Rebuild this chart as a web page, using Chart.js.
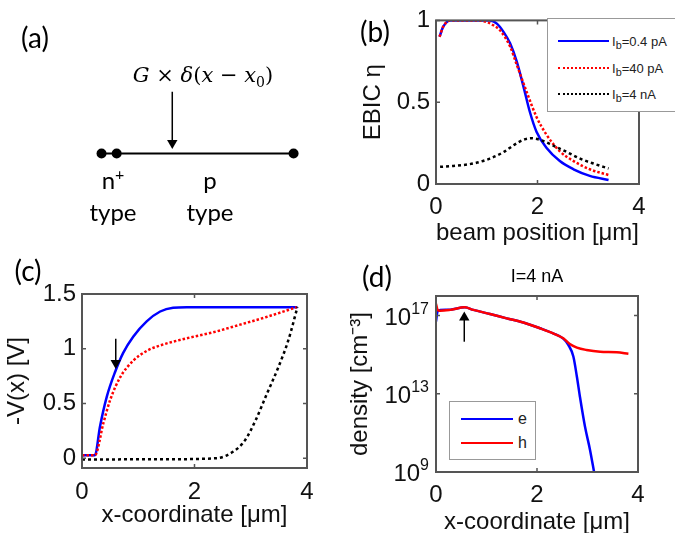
<!DOCTYPE html>
<html>
<head>
<meta charset="utf-8">
<script src="https://cdn.jsdelivr.net/npm/chart.js@4.4.1/dist/chart.umd.min.js"></script>
<style>
  body { margin: 0; width: 675px; height: 533px; overflow: hidden; background: #fff; position: relative; font-family: 'Liberation Sans', Arial, sans-serif; }
  canvas { position: absolute; }
  .txt { position: absolute; white-space: nowrap; color: #000; transform: translate(-50%, -50%); line-height: 1; }
  .panel { font-family: Lato, 'Open Sans', sans-serif; font-size: 28px; }
  .diag { font-family: Lato, 'Open Sans', sans-serif; font-size: 24px; }
  .formula { font-family: 'DejaVu Serif', 'Liberation Serif', serif; font-size: 21px; }
  .legend { position: absolute; border: 1px solid #999; background: #fff; }
  .legend .sample { position: absolute; height: 0; }
  .legend .lab { position: absolute; white-space: nowrap; transform: translateY(-50%); color: #222; }
  .ytick { position: absolute; white-space: nowrap; color: #111; font-size: 24px; line-height: 1; transform: translate(-100%, -50%); }
  sup, sub { line-height: 0; }
</style>
</head>
<body>

<canvas id="chart-a" width="340" height="250" style="left:0;top:0"></canvas>
<canvas id="chart-b" width="335" height="250" style="left:340px;top:0"></canvas>
<canvas id="chart-c" width="340" height="283" style="left:0;top:250px"></canvas>
<canvas id="chart-d" width="335" height="290" style="left:340px;top:250px"></canvas>

<div class="txt panel" style="left:35px;top:37px">(a)</div>
<div class="txt panel" style="left:375px;top:31px">(b)</div>
<div class="txt panel" style="left:28px;top:270px">(c)</div>
<div class="txt panel" style="left:377px;top:276px">(d)</div>

<div class="txt formula" style="left:203px;top:75px"><i>G</i> × <i>δ</i>(<i>x</i> − <i>x</i><sub style="font-size:14px">0</sub>)</div>
<div class="txt diag" style="left:113px;top:180px">n<sup style="font-size:16px">+</sup></div>
<div class="txt diag" style="left:113px;top:212px">type</div>
<div class="txt diag" style="left:210px;top:180px">p</div>
<div class="txt diag" style="left:210px;top:212px">type</div>

<div class="txt" style="left:537px;top:276px;font-size:18px">I=4 nA</div>

<div class="legend" id="legend-b" style="left:547px;top:18px;width:140px;height:92px"></div>
<div class="legend" id="legend-d" style="left:449px;top:401px;width:85px;height:57px"></div>

<script>
'use strict';

// ---- (b) EBIC vs beam position ----
const beamLowX  = [0.07, 0.14, 0.28, 0.5, 0.8, 1.06, 1.2, 1.33, 1.46, 1.59, 1.72, 1.85, 1.98, 2.18, 2.44, 2.71, 3.03, 3.4];
const beamLowY  = [0.90, 0.96, 1.0, 1.0, 1.0, 1.0, 0.98, 0.93, 0.86, 0.75, 0.60, 0.44, 0.32, 0.22, 0.14, 0.09, 0.05, 0.025];
const beamMidX  = [0.07, 0.14, 0.28, 0.5, 0.8, 1.0, 1.13, 1.26, 1.46, 1.59, 1.79, 1.98, 2.18, 2.44, 2.71, 3.03, 3.4];
const beamMidY  = [0.90, 0.96, 1.0, 1.0, 1.0, 0.99, 0.97, 0.94, 0.84, 0.73, 0.56, 0.41, 0.30, 0.20, 0.14, 0.09, 0.055];
const beamHighX = [0.08, 0.34, 0.73, 1.06, 1.33, 1.52, 1.72, 1.88, 2.05, 2.31, 2.58, 2.84, 3.10, 3.40];
const beamHighY = [0.105, 0.11, 0.125, 0.155, 0.195, 0.235, 0.27, 0.28, 0.27, 0.235, 0.195, 0.155, 0.125, 0.095];
const legendB = ['I<sub>b</sub>=0.4 pA', 'I<sub>b</sub>=40 pA', 'I<sub>b</sub>=4 nA'];
const xTicksB = [0, 2, 4];
const yTicksB = [0, 0.5, 1];

// ---- (c) potential ----
const potLowX  = [0, 0.23, 0.32, 0.44, 0.59, 0.73, 0.91, 1.15, 1.39, 1.62, 1.86, 3.0, 3.83];
const potLowY  = [0.027, 0.027, 0.29, 0.56, 0.79, 0.96, 1.11, 1.25, 1.34, 1.375, 1.38, 1.38, 1.38];
const potMidX  = [0, 0.23, 0.38, 0.50, 0.68, 0.91, 1.15, 1.39, 1.86, 2.33, 2.81, 3.28, 3.82];
const potMidY  = [0.027, 0.027, 0.32, 0.53, 0.74, 0.89, 0.98, 1.03, 1.095, 1.15, 1.22, 1.29, 1.38];
const potHighX = [0, 1.5, 2.4, 2.69, 2.9, 3.09, 3.28, 3.49, 3.67, 3.83];
const potHighY = [-0.012, -0.01, 0.0, 0.06, 0.165, 0.35, 0.58, 0.83, 1.08, 1.38];
const arrowC = { x: 0.6, top: 1.09, head: 0.87 };
const xTicksC = [0, 2, 4];
const yTicksC = [0, 0.5, 1, 1.5];

// ---- (d) carrier density, I = 4 nA ----
const densEX = [0, 0.03, 0.08, 0.28, 0.57, 0.74, 1.07, 1.40, 1.73, 2.06, 2.32, 2.52, 2.62, 2.72, 2.79, 2.85, 2.95, 3.05, 3.13, 3.2];
const densE  = [5.0e16, 1.6e17, 1.9e17, 2.0e17, 2.63e17, 1.95e17, 1.2e17, 7.2e16, 4.4e16, 2.24e16, 1.23e16, 6.6e15, 3.2e15, 8e14, 7.4e13, 7.1e12, 2.1e11, 1.35e10, 1.0e9, 1.0e8];
const densHX = [0, 0.03, 0.08, 0.28, 0.57, 0.74, 1.07, 1.40, 1.73, 2.06, 2.32, 2.52, 2.65, 2.79, 2.98, 3.25, 3.58, 3.81];
const densH  = [4.0e17, 2.0e17, 1.74e17, 1.95e17, 2.63e17, 1.95e17, 1.2e17, 7.2e16, 4.4e16, 2.24e16, 1.23e16, 6.9e15, 3.5e15, 2.3e15, 1.74e15, 1.41e15, 1.32e15, 1.1e15];
const legendD = ['e', 'h'];
const arrowD = { x: 0.56, base: 4.6e15, head: 8.0e16 };
const xTicksD = [0, 2, 4];
const yTicksD = [1e9, 1e13, 1e17];
const yExpD = ['9', '13', '17'];

// ---- (a) device sketch ----
const contactsX = [0, 0.3, 3.8];
const beamX = 1.4;
const beamArrow = { top: 1.3, head: 0.22 };

Chart.defaults.font.family = "'Liberation Sans', Arial, sans-serif";
Chart.defaults.color = '#111';

const pts = (xs, ys) => xs.map((x, i) => ({ x: x, y: ys[i] }));

// box + inward ticks like the matlab axes
const frameTicks = {
    id: 'frameTicks',
    afterDatasetsDraw: (chart) => {
        const { ctx, chartArea: a, scales } = chart;
        ctx.save();
        ctx.strokeStyle = '#555';
        ctx.lineWidth = 2;
        ctx.strokeRect(a.left, a.top, a.right - a.left, a.bottom - a.top);
        ctx.lineWidth = 1.5;
        ctx.beginPath();
        scales.x.ticks.forEach(t => {
            const px = scales.x.getPixelForValue(t.value);
            ctx.moveTo(px, a.bottom); ctx.lineTo(px, a.bottom - 4);
            ctx.moveTo(px, a.top); ctx.lineTo(px, a.top + 4);
        });
        scales.y.ticks.forEach(t => {
            const py = scales.y.getPixelForValue(t.value);
            ctx.moveTo(a.left, py); ctx.lineTo(a.left + 4, py);
            ctx.moveTo(a.right, py); ctx.lineTo(a.right - 4, py);
        });
        ctx.stroke();
        ctx.restore();
    }
};

const curve = (data, color, dash, order) => ({
    data: data,
    showLine: true,
    borderColor: color,
    borderWidth: 2.5,
    borderDash: dash,
    pointRadius: 0,
    cubicInterpolationMode: 'monotone',
    order: order
});

const arrow = (data, rotation) => ({
    data: data,
    showLine: true,
    borderColor: '#000',
    borderWidth: 1.5,
    pointRadius: [0, 6],
    pointStyle: 'triangle',
    rotation: rotation,
    pointBackgroundColor: '#000',
    pointBorderWidth: 0,
    order: -1
});

const plotChart = (id, datasets, cfg) => new Chart(document.getElementById(id), {
    type: 'scatter',
    data: { datasets: datasets },
    options: {
        responsive: false,
        animation: false,
        layout: { padding: cfg.pad },
        plugins: { legend: { display: false }, tooltip: { enabled: false } },
        scales: {
            x: {
                type: 'linear', min: cfg.xMin, max: cfg.xMax,
                afterBuildTicks: s => { s.ticks = cfg.xTicks.map(v => ({ value: v })); },
                afterFit: s => { s.height = cfg.xh; },
                grid: { display: false, drawTicks: false },
                border: { display: false },
                ticks: { padding: cfg.xTickPad, font: { size: 24 }, callback: v => String(v) },
                title: { display: true, text: cfg.xTitle, font: { size: 24 }, color: '#111', padding: { top: 0, bottom: cfg.xTitlePad } }
            },
            y: {
                type: cfg.yType || 'linear', min: cfg.yMin, max: cfg.yMax,
                afterBuildTicks: s => { s.ticks = cfg.yTicks.map(v => ({ value: v })); },
                afterFit: s => { s.width = cfg.yw; },
                grid: { display: false, drawTicks: false },
                border: { display: false },
                ticks: { padding: 6, font: { size: 24 }, callback: cfg.yLabel || (v => String(v)) },
                title: { display: true, text: cfg.yTitle, font: { size: 24 }, color: '#111', padding: { top: cfg.yTitlePad, bottom: 0 } }
            }
        }
    },
    plugins: [frameTicks]
});

// (a)
new Chart(document.getElementById('chart-a'), {
    type: 'scatter',
    data: {
        datasets: [{
            data: [{ x: contactsX[0], y: 0 }, { x: contactsX[2], y: 0 }],
            showLine: true, borderColor: '#000', borderWidth: 2, pointRadius: 0
        }, {
            data: contactsX.map(x => ({ x: x, y: 0 })),
            pointRadius: 5, pointBackgroundColor: '#000', pointBorderWidth: 0
        }, arrow([{ x: beamX, y: beamArrow.top }, { x: beamX, y: beamArrow.head }], 180)]
    },
    options: {
        responsive: false,
        animation: false,
        layout: { padding: 0 },
        plugins: { legend: { display: false }, tooltip: { enabled: false } },
        scales: {
            x: { display: false, min: -1.89, max: 4.6 },
            y: { display: false, min: -1.9, max: 3.1 }
        }
    }
});

// (b)
plotChart('chart-b', [
    curve(pts(beamLowX, beamLowY), '#0000ff', [], 3),
    curve(pts(beamMidX, beamMidY), '#ff0000', [2.5, 2], 2),
    curve(pts(beamHighX, beamHighY), '#000', [3, 3], 1)
], {
    pad: { left: 0, top: 17, right: 36, bottom: 0 }, yw: 96, xh: 66,
    xMin: 0, xMax: 4, yMin: 0, yMax: 1, xTicks: xTicksB, yTicks: yTicksB,
    xTickPad: 9, xTitle: 'beam position [μm]', xTitlePad: 2.6,
    yTitle: 'EBIC η', yTitlePad: 18.6
});

// (c)
plotChart('chart-c', [
    curve(pts(potLowX, potLowY), '#0000ff', [], 3),
    curve(pts(potMidX, potMidY), '#ff0000', [2.5, 2], 2),
    curve(pts(potHighX, potHighY), '#000', [3, 3], 1),
    arrow([{ x: arrowC.x, y: arrowC.top }, { x: arrowC.x, y: arrowC.head }], 180)
], {
    pad: { left: 0, top: 44, right: 33, bottom: 0 }, yw: 82, xh: 65,
    xMin: 0, xMax: 4, yMin: -0.09, yMax: 1.5, xTicks: xTicksC, yTicks: yTicksC,
    xTickPad: 10, xTitle: 'x-coordinate [μm]', xTitlePad: 3.6,
    yTitle: '-V(x) [V]', yTitlePad: 2.6
});

// (d)
const chartD = plotChart('chart-d', [
    curve(pts(densEX, densE), '#0000ff', [], 3),
    curve(pts(densHX, densH), '#ff0000', [], 2),
    arrow([{ x: arrowD.x, y: arrowD.base }, { x: arrowD.x, y: arrowD.head }], 0)
], {
    pad: { left: 0, top: 46, right: 37, bottom: 0 }, yw: 96, xh: 68,
    xMin: 0, xMax: 4, yType: 'logarithmic', yMin: 1e9, yMax: 1e18,
    xTicks: xTicksD, yTicks: yTicksD,
    yLabel: () => '',
    xTickPad: 9, xTitle: 'x-coordinate [μm]', xTitlePad: 3.6,
    yTitle: 'density [cm⁻³]', yTitlePad: 5.6
});

// powers of ten as html text, placed on the log scale
const canvasD = document.getElementById('chart-d');
yTicksD.forEach((v, i) => {
    const lab = document.createElement('div');
    lab.className = 'ytick';
    lab.style.left = (canvasD.offsetLeft + chartD.chartArea.left - 7) + 'px';
    lab.style.top = (canvasD.offsetTop + chartD.scales.y.getPixelForValue(v) + 1) + 'px';
    lab.innerHTML = `10<sup style="font-size:16px;vertical-align:11px">${yExpD[i]}</sup>`;
    document.body.appendChild(lab);
});

// html legends (sub-scripted labels)
const buildLegend = (el, labels, styles, rowY, sampleLeft, sampleW, textLeft, fontSize) => {
    labels.forEach((lab, i) => {
        const s = document.createElement('div');
        s.className = 'sample';
        s.style.cssText = `left:${sampleLeft}px;top:${rowY[i] - 1}px;width:${sampleW}px;border-top:${styles[i]}`;
        el.appendChild(s);
        const t = document.createElement('div');
        t.className = 'lab';
        t.style.cssText = `left:${textLeft}px;top:${rowY[i]}px;font-size:${fontSize}px`;
        t.innerHTML = lab;
        el.appendChild(t);
    });
};

buildLegend(document.getElementById('legend-b'), legendB,
    ['2.5px solid #0000ff', '2.5px dotted #ff0000', '2.5px dotted #000'],
    [22, 49, 75], 10, 51, 64, 13);
buildLegend(document.getElementById('legend-d'), legendD,
    ['2.5px solid #0000ff', '2.5px solid #ff0000'],
    [17, 41], 11, 52, 68, 16);
</script>
</body>
</html>
